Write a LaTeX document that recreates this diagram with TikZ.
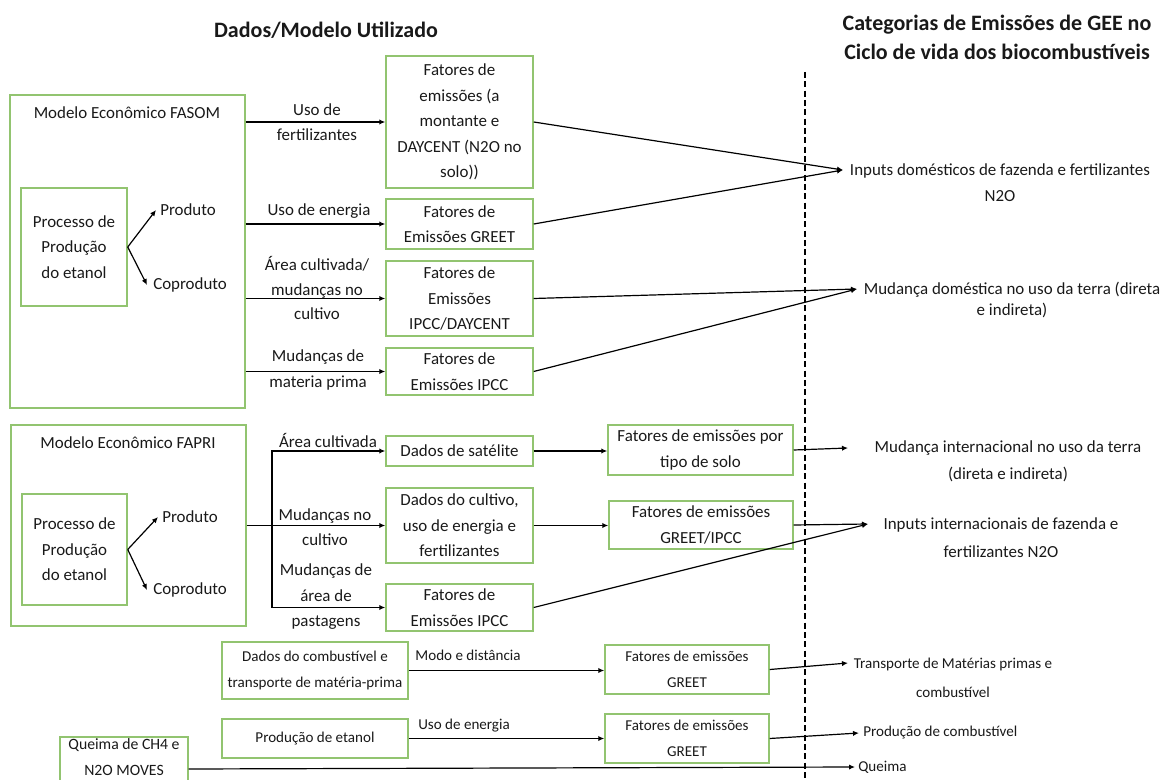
\documentclass[tikz,border=0pt]{standalone}
\usepackage{fontspec}
\setmainfont{Carlito}
\usetikzlibrary{arrows.meta}
\definecolor{gr}{RGB}{146,196,112}
\begin{document}
\begin{tikzpicture}[x=0.75pt,y=-0.75pt,
 every node/.style={font=\fontsize{12.7}{19.1}\selectfont, inner sep=0pt, align=center, text=black!90},
 ls/.style={font=\fontsize{12.7}{#1}\selectfont},
 sm/.style={font=\fontsize{11.3}{19.5}\selectfont},
 gbox/.style={draw=gr, line width=1.1pt},
 bx/.style 2 args={gbox, minimum width=#1*0.75pt, minimum height=#2*0.75pt},
 arr/.style={-{Latex[length=4.5pt,width=4pt]}, line width=0.9pt},
 ttl/.style={font=\fontsize{16.5}{21.75}\selectfont\bfseries}]
\useasboundingbox (0,0) rectangle (1171,780);
\clip (0,0) rectangle (1171,780);

% titles
\node[ttl] (t1) at (326,30) {Dados/Modelo Utilizado};
\node[ttl] (t2) at (997,37.5) {Categorias de Emissões de GEE no\\Ciclo de vida dos biocombustíveis};

% dashed separator
\coordinate (dT) at (805,72);
\coordinate (dB) at (805,782);
\draw[line width=1.5pt, dash pattern=on 4.5pt off 2.5pt] (dT) -- (dB);

% target coordinates
\coordinate (tA) at (843,170);
\coordinate (tB) at (857,289);
\coordinate (tC) at (848,448);
\coordinate (tD) at (868,524);
\coordinate (tE) at (848,663);
\coordinate (tF) at (859,733);
\coordinate (tG) at (855,767);
\coordinate (jx) at (272,0);

% targets
\node (gA) at (1000,182.5) {Inputs domésticos de fazenda e fertilizantes\\N2O};
\node[ls=15.75pt] (gB) at (1012,299.5) {Mudança doméstica no uso da terra (direta\\e indireta)};
\node[ls=20.25pt] (gC) at (1008,461.5) {Mudança internacional no uso da terra\\(direta e indireta)};
\node[ls=21pt] (gD) at (1001,538) {Inputs internacionais de fazenda e\\fertilizantes N2O};
\node[sm, font=\fontsize{11.3}{21.75}\selectfont] (gE) at (953,677.5) {Transporte de Matérias primas e\\combustível};
\node[sm, anchor=west] (gF) at (863,733) {Produção de combustível};
\node[sm, anchor=west] (gG) at (858,767) {Queima};

% FASOM
\node[bx={235}{313}] (fasom) at (127.5,251.5) {};
\node (fasomT) at (127,113) {Modelo Econômico FASOM};
\node[bx={106}{118}] (proc1) at (74,247) {Processo de\\Produção\\do etanol};
\node[anchor=west] (prod1) at (160,210) {Produto};
\node[anchor=west] (copr1) at (153,285) {Coproduto};
\draw[arr] (proc1.east) -- ([xshift=-3pt]prod1.west);
\draw[arr] (proc1.east) -- ([xshift=-4.5pt]copr1.west);

\node[bx={147}{132}] (bA) at (459.5,122) {Fatores de\\emissões (a\\montante e\\DAYCENT (N2O no\\solo))};
\node[bx={147}{50}] (bB) at (459.5,224) {Fatores de\\Emissões GREET};
\node[bx={147}{75}] (bC) at (459.5,298.5) {Fatores de\\Emissões\\IPCC/DAYCENT};
\node[bx={147}{47}] (bD) at (459.5,371.5) {Fatores de\\Emissões IPCC};

\draw[arr] (fasom.east |- bA.west) -- (bA.west);
\draw[arr] (fasom.east |- bB.west) -- (bB.west);
\draw[arr] (fasom.east |- bC.west) -- (bC.west);
\draw[arr] (fasom.east |- bD.west) -- (bD.west);
\node (lA) at (317,122) {Uso de\\fertilizantes};
\node (lB) at (319,211) {Uso de energia};
\node[ls=18.4pt] (lC) at (317,288) {Área cultivada/\\mudanças no\\cultivo};
\node (lD) at (318,370) {Mudanças de\\materia prima};

\draw[arr] (bA.east) -- (tA);
\draw[arr] (bB.east) -- (tA);
\draw[arr] (bC.east) -- (tB);
\draw[arr] (bD.east) -- (tB);

% FAPRI
\node[bx={235}{201}] (fapri) at (128.5,525.5) {};
\node (fapriT) at (128,443) {Modelo Econômico FAPRI};
\node[bx={105}{111}] (proc2) at (74.5,549.5) {Processo de\\Produção\\do etanol};
\node[anchor=west] (prod2) at (162,517) {Produto};
\node[anchor=west] (copr2) at (153,590) {Coproduto};
\draw[arr] (proc2.east) -- ([xshift=-3pt]prod2.west);
\draw[arr] (proc2.east) -- ([xshift=-4.5pt]copr2.west);

\node[bx={147}{30}] (sat) at (459.5,451) {Dados de satélite};
\node[bx={147}{75}] (cult) at (459.5,525.5) {Dados do cultivo,\\uso de energia e\\fertilizantes};
\node[bx={147}{47}] (ipcc2) at (459.5,607.5) {Fatores de\\Emissões IPCC};
\node[bx={185}{50}] (solo) at (700.5,450) {Fatores de emissões por\\tipo de solo};
\node[bx={184}{48}] (gi) at (701,525) {Fatores de emissões\\GREET/IPCC};

\draw[arr] (fapri.east |- cult.west) -- (cult.west);
\draw[arr] (jx |- ipcc2.west) |- (sat.west);
\draw[arr] (jx |- ipcc2.west) -- (ipcc2.west);
\node (lE) at (328,440) {Área cultivada};
\node (lF) at (325,527) {Mudanças no\\cultivo};
\node (lG) at (326,597) {Mudanças de\\área de\\pastagens};

\draw[arr] (sat.east) -- (solo.west |- sat.east);
\draw[arr] (cult.east) -- (gi.west |- cult.east);
\draw[arr] (solo.east) -- (tC);
\draw[arr] (gi.east) -- (tD);
\draw[arr] (ipcc2.east) -- (tD);

% bottom rows
\node[bx={186}{57}, sm] (comb) at (315,670.5) {Dados do combustível e\\transporte de matéria-prima};
\node[bx={164}{49}, sm] (g1) at (687,669.5) {Fatores de emissões\\GREET};
\node[bx={186}{39}, sm] (etan) at (315,738.5) {Produção de etanol};
\node[bx={164}{49}, sm] (g2) at (687,738.5) {Fatores de emissões\\GREET};
\node[bx={128}{47}] (queima) at (124,760.5) {};
\node[font=\fontsize{11.8}{19.1}\selectfont] (queimaT) at (124,757) {Queima de CH4 e\\N2O MOVES};

\draw[arr] (comb.east) -- (g1.west |- comb.east);
\node[sm] (lH) at (468,655) {Modo e distância};
\draw[arr] (etan.east) -- (g2.west |- etan.east);
\node[sm] (lI) at (464,726) {Uso de energia};
\draw[arr] (g1.east) -- (tE);
\draw[arr] (g2.east) -- (tF);
\draw[arr] (queima.east) ++(0,8.5) -- (tG);
\end{tikzpicture}
\end{document}
